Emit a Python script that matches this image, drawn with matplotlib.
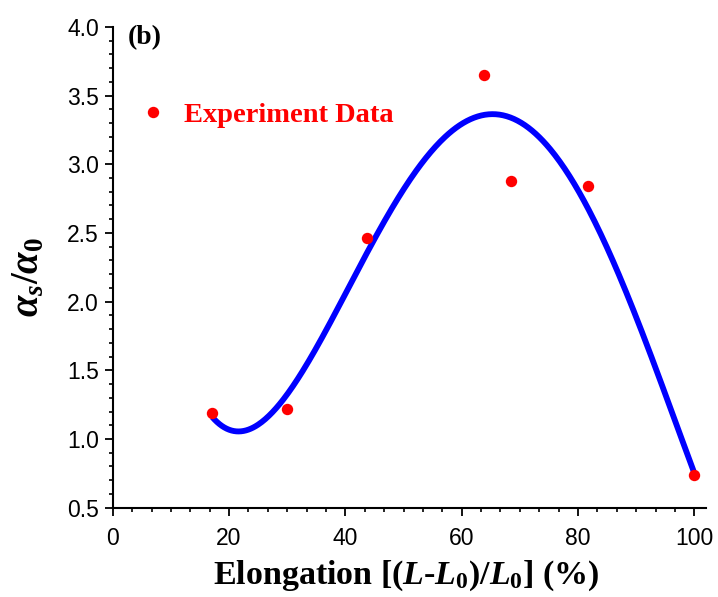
import numpy as np
import matplotlib
matplotlib.use("Agg")
import matplotlib.pyplot as plt
from matplotlib.ticker import MultipleLocator, FormatStrFormatter

plt.rcParams["font.family"] = ["Liberation Sans", "DejaVu Sans"]
plt.rcParams["mathtext.fontset"] = "custom"
plt.rcParams["mathtext.rm"] = "Liberation Serif:bold"
plt.rcParams["mathtext.it"] = "Liberation Serif:italic:bold"
plt.rcParams["mathtext.bf"] = "Liberation Serif:bold"

# Measured data: elongation (%) vs. alpha_s / alpha_0
elongation = [17.1, 30.0, 43.7, 63.8, 68.4, 81.7, 99.9]
alpha_ratio = [1.19, 1.22, 2.46, 3.65, 2.88, 2.84, 0.74]
fit_degree = 4

fig = plt.figure(figsize=(7.18, 5.97), dpi=100)
ax = fig.add_axes([0.157, 0.1496, 0.9833 - 0.157, 0.955 - 0.1496])

# Polynomial fit through the measurements
coef = np.polyfit(elongation, alpha_ratio, fit_degree)
xf = np.linspace(min(elongation), max(elongation), 400)
ax.plot(xf, np.polyval(coef, xf), color="#0000ff", lw=4.2, solid_capstyle="butt", zorder=2)

pts, = ax.plot(elongation, alpha_ratio, "o", color="#ff0000", ms=8.2, mec="none",
               label="Experiment Data", zorder=3)

ax.set_xlim(0, 102)
ax.set_ylim(0.5, 4.0)
ax.set_xticks([0, 20, 40, 60, 80, 100])
ax.xaxis.set_minor_locator(MultipleLocator(20 / 6))
ax.yaxis.set_major_locator(MultipleLocator(0.5))
ax.yaxis.set_minor_locator(MultipleLocator(0.1))
ax.yaxis.set_major_formatter(FormatStrFormatter("%.1f"))

for side in ("top", "right"):
    ax.spines[side].set_visible(False)
for side in ("left", "bottom"):
    ax.spines[side].set_linewidth(1.5)

ax.tick_params(which="major", direction="out", length=6, width=1.3, labelsize=16.5)
ax.tick_params(axis="x", which="major", pad=8)
ax.tick_params(axis="y", which="major", pad=4)
ax.tick_params(which="minor", direction="out", length=3.2, width=1.2)

ax.set_xlabel(r"Elongation [($L$-$L_\mathbf{0}$)/$L_\mathbf{0}$] (%)",
              family="Liberation Serif", weight="bold", fontsize=24.5)
ax.xaxis.set_label_coords(0.495, -0.105)
ax.set_ylabel(r"$\alpha_s/\alpha_0$", fontsize=28)
ax.yaxis.set_label_coords(-0.112, 0.48)

ax.text(0.026, 1.003, "(b)", transform=ax.transAxes, family="Liberation Serif",
        weight="bold", fontsize=20, va="top", ha="left")

leg = ax.legend(handles=[pts], loc="upper left", bbox_to_anchor=(-0.012, 0.896),
                frameon=False, handletextpad=0.37, handlelength=1.5,
                prop={"family": "Liberation Serif", "weight": "bold", "size": 20.5})
for t in leg.get_texts():
    t.set_color("#ff0000")

fig.savefig("out.png", dpi=100)
